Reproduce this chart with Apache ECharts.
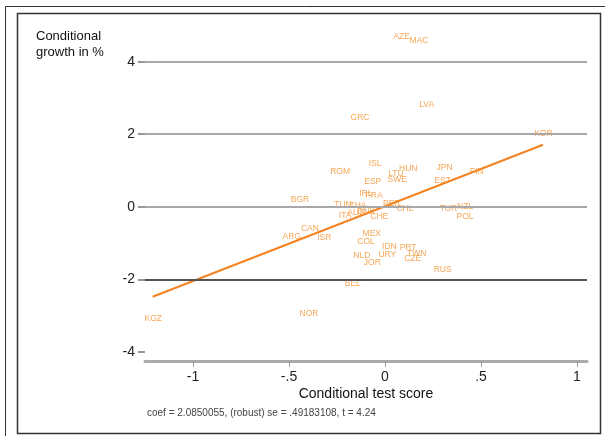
<!DOCTYPE html>
<html><head><meta charset="utf-8">
<script src="https://cdn.jsdelivr.net/npm/echarts@6/dist/echarts.min.js"></script>
<style>html,body{margin:0;padding:0;background:#fff}#c{width:605px;height:436px}</style>
</head><body><div id="c"></div>
<script>
const codes = ['AZE','MAC','LVA','GRC','KOR','JPN','FIN','EST','ISL','ROM','LTU','HUN','ESP','SWE','IRL','FRA','BGR','TUN','THA','ITA','AUS','DNK','PER','CHL','CHE','TUR','NZL','POL','CAN','ARG','ISR','MEX','COL','IDN','PRT','TWN','URY','CZE','NLD','JOR','RUS','BEL','NOR','KGZ'];
const testScore = [0.087,0.177,0.217,-0.130,0.825,0.31,0.477,0.30,-0.052,-0.234,0.057,0.121,-0.064,0.064,-0.10,-0.057,-0.443,-0.219,-0.141,-0.208,-0.151,-0.099,0.035,0.104,-0.03,0.33,0.417,0.417,-0.391,-0.486,-0.316,-0.069,-0.099,0.023,0.12,0.165,0.012,0.144,-0.121,-0.066,0.30,-0.168,-0.396,-1.207];
const growth = [4.68,4.59,2.81,2.46,2.01,1.07,0.97,0.72,1.18,0.96,0.90,1.04,0.68,0.74,0.36,0.30,0.19,0.06,0.03,-0.25,-0.17,-0.14,0.08,-0.06,-0.28,-0.06,-0.01,-0.27,-0.59,-0.82,-0.86,-0.75,-0.96,-1.09,-1.12,-1.30,-1.32,-1.44,-1.35,-1.54,-1.72,-2.13,-2.95,-3.07];
const fitX = [-1.21, 0.823];
const fitY = [-2.48, 1.71];
const xTicks = [-1,-0.5,0,0.5,1];
const yTicks = [-4,-2,0,2,4];
const gridLinesLight = [4,2,0];
const gridLinesDark = [-2];

const fmt = v => v===0 ? '0' : (v<0?'-':'') + String(Math.abs(v)).replace(/^0/,'');
const orange = '#F5902A';
const font = 'Liberation Sans, Arial, sans-serif';

const chart = echarts.init(document.getElementById('c'));
chart.setOption({
  backgroundColor:'#fff',
  animation:false,
  grid:{left:145,right:18,top:29,bottom:75},
  xAxis:{type:'value',min:-1.25,max:1.052,
    axisLine:{show:true,onZero:false,lineStyle:{color:'#aaa',width:3}},
    axisTick:{show:true,customValues:xTicks,length:6,lineStyle:{color:'#999',width:1}},
    axisLabel:{customValues:xTicks,formatter:fmt,fontSize:14,color:'#222',fontFamily:font,margin:9},
    splitLine:{show:false}},
  yAxis:{type:'value',min:-4.25,max:4.9,
    axisLine:{show:false,onZero:false},
    axisTick:{show:true,customValues:yTicks,length:7,lineStyle:{color:'#777',width:1.5}},
    axisLabel:{customValues:yTicks,fontSize:14,color:'#222',fontFamily:font,margin:10},
    splitLine:{show:false}},
  graphic:[
    {type:'rect',shape:{x:5.5,y:6.5,width:620,height:450},style:{fill:'none',stroke:'#333',lineWidth:1}},
    {type:'rect',shape:{x:17.5,y:13.5,width:583,height:420},style:{fill:'none',stroke:'#333',lineWidth:1.5}},
    {type:'text',left:36,top:28,style:{text:'Conditional\ngrowth in %',font:'13px '+font,fill:'#111',lineHeight:16}},
    {type:'text',x:366,y:394,style:{text:'Conditional test score',font:'14px '+font,fill:'#111',textAlign:'center',textVerticalAlign:'middle'}},
    {type:'text',x:147,y:413,style:{text:'coef = 2.0850055, (robust) se = .49183108, t = 4.24',font:'10px '+font,fill:'#444',textVerticalAlign:'middle'}}
  ],
  series:[
    {type:'line',data:fitX.map((x,i)=>[x,fitY[i]]),symbol:'none',lineStyle:{color:'#F58220',width:2},z:3,
      markLine:{silent:true,symbol:'none',label:{show:false},
        data:gridLinesLight.map(v=>({yAxis:v,lineStyle:{color:'#a8a8a8',width:2,type:'solid'}}))
          .concat(gridLinesDark.map(v=>({yAxis:v,lineStyle:{color:'#555',width:2,type:'solid'}})))}},
    {type:'scatter',data:codes.map((c,i)=>({name:c,value:[testScore[i],growth[i]]})),symbolSize:0,z:4,
      label:{show:true,position:'inside',formatter:'{b}',color:orange,fontSize:8.5,fontFamily:font}}
  ]
});
</script></body></html>
